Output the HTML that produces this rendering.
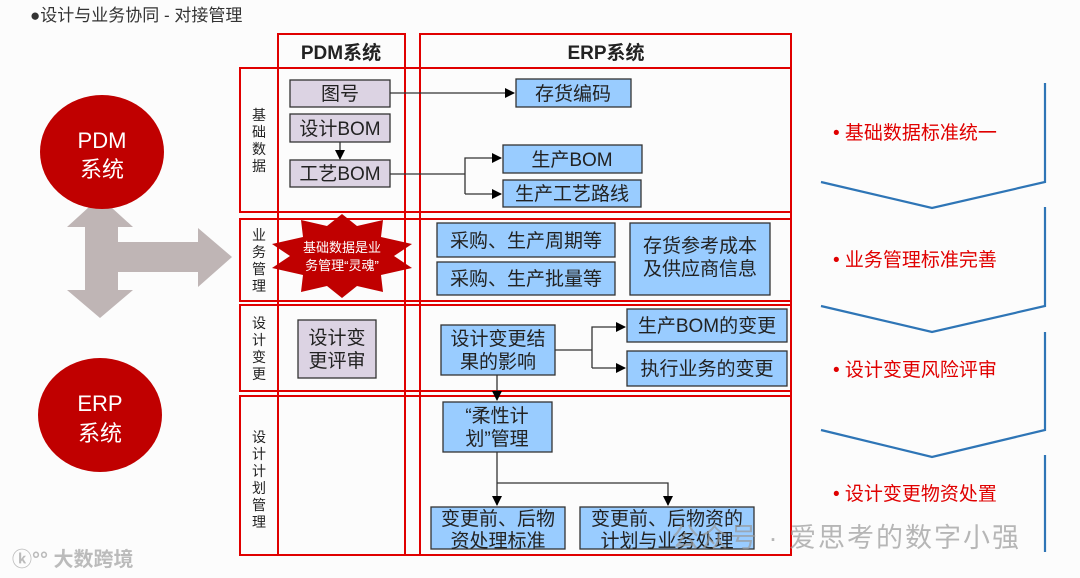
<!DOCTYPE html>
<html><head><meta charset="utf-8"><style>
html,body{margin:0;padding:0;background:#fcfcfc;}
svg{display:block;font-family:"Liberation Sans","Noto Sans CJK SC",sans-serif;}
</style></head><body>
<svg width="1080" height="578" viewBox="0 0 1080 578" xmlns="http://www.w3.org/2000/svg">
<defs>
<marker id="ar" markerWidth="10" markerHeight="10" refX="9" refY="5" orient="auto" markerUnits="userSpaceOnUse"><path d="M0,0 L10,5 L0,10 z" fill="#000"/></marker>
</defs>
<rect width="1080" height="578" fill="#fcfcfc"/>
<text x="30" y="21" font-size="17" fill="#333">●设计与业务协同 - 对接管理</text>

<path d="M100,197 L133,227 L118,227 L118,242 L198,242 L198,228 L232,257 L198,287 L198,272 L118,272 L118,290 L133,290 L100,318 L67,290 L85,290 L85,227 L67,227 Z" fill="#bfb5b5"/>
<ellipse cx="102" cy="152" rx="62" ry="57" fill="#c00000"/>
<text x="102" y="148" font-size="22" fill="#fff" text-anchor="middle">PDM</text>
<text x="102" y="177" font-size="22" fill="#fff" text-anchor="middle">系统</text>
<ellipse cx="100" cy="415" rx="62" ry="57" fill="#c00000"/>
<text x="100" y="411" font-size="22" fill="#fff" text-anchor="middle">ERP</text>
<text x="100" y="441" font-size="22" fill="#fff" text-anchor="middle">系统</text>

<g fill="none" stroke="#e00000" stroke-width="2">
<rect x="278" y="34" width="127" height="521"/>
<rect x="420" y="34" width="371" height="521"/>
<line x1="278" y1="68" x2="405" y2="68"/>
<rect x="240" y="68" width="551" height="144"/>
<rect x="240" y="219" width="551" height="82"/>
<rect x="240" y="305" width="551" height="86"/>
<rect x="240" y="396" width="551" height="159"/>
</g>
<text x="341" y="59" font-size="19" font-weight="bold" fill="#222" text-anchor="middle">PDM系统</text>
<text x="606" y="59" font-size="19" font-weight="bold" fill="#222" text-anchor="middle">ERP系统</text>

<g font-size="14" fill="#222" text-anchor="middle">
<text x="259" y="120">基</text><text x="259" y="137">础</text><text x="259" y="154">数</text><text x="259" y="171">据</text>
<text x="259" y="240">业</text><text x="259" y="257">务</text><text x="259" y="274">管</text><text x="259" y="291">理</text>
<text x="259" y="328">设</text><text x="259" y="345">计</text><text x="259" y="362">变</text><text x="259" y="379">更</text>
<text x="259" y="442">设</text><text x="259" y="459">计</text><text x="259" y="476">计</text><text x="259" y="493">划</text><text x="259" y="510">管</text><text x="259" y="527">理</text>
</g>

<g stroke="#333" stroke-width="1.3" fill="none">
<line x1="390" y1="93" x2="514" y2="93" marker-end="url(#ar)"/>
<line x1="340" y1="142" x2="340" y2="159" marker-end="url(#ar)"/>
<polyline points="390,174 465,174"/>
<polyline points="465,194 465,158 501,158" marker-end="url(#ar)"/>
<line x1="465" y1="194" x2="501" y2="194" marker-end="url(#ar)"/>
<line x1="555" y1="350" x2="592" y2="350"/>
<polyline points="592,368 592,327 625,327" marker-end="url(#ar)"/>
<line x1="592" y1="368" x2="625" y2="368" marker-end="url(#ar)"/>
<line x1="497" y1="375" x2="497" y2="400" marker-end="url(#ar)"/>
<line x1="497" y1="452" x2="497" y2="505" marker-end="url(#ar)"/>
<polyline points="497,483 668,483 668,505" marker-end="url(#ar)"/>
</g>

<g stroke="#333" stroke-width="1.3">
<rect x="290" y="80" width="100" height="27" fill="#dcd3e3"/>
<rect x="290" y="114" width="100" height="28" fill="#dcd3e3"/>
<rect x="290" y="160" width="100" height="27" fill="#dcd3e3"/>
<rect x="298" y="320" width="78" height="58" fill="#dcd3e3"/>
<g fill="#99ccff">
<rect x="516" y="79" width="115" height="28"/>
<rect x="503" y="145" width="139" height="28"/>
<rect x="503" y="180" width="138" height="27"/>
<rect x="437" y="223" width="178" height="34"/>
<rect x="437" y="262" width="178" height="33"/>
<rect x="630" y="223" width="140" height="72"/>
<rect x="441" y="325" width="114" height="50"/>
<rect x="627" y="309" width="160" height="33"/>
<rect x="627" y="351" width="160" height="35"/>
<rect x="443" y="402" width="109" height="50"/>
<rect x="431" y="507" width="134" height="42"/>
<rect x="580" y="507" width="174" height="42"/>
</g>
</g>
<g font-size="19" fill="#222" text-anchor="middle">
<text x="340" y="100">图号</text>
<text x="340" y="135">设计BOM</text>
<text x="340" y="180">工艺BOM</text>
<text x="337" y="344">设计变</text><text x="337" y="367">更评审</text>
<text x="573" y="100">存货编码</text>
<text x="572" y="166">生产BOM</text>
<text x="572" y="200">生产工艺路线</text>
<text x="526" y="247">采购、生产周期等</text>
<text x="526" y="285">采购、生产批量等</text>
<text x="700" y="252">存货参考成本</text><text x="700" y="275">及供应商信息</text>
<text x="498" y="345">设计变更结</text><text x="498" y="368">果的影响</text>
<text x="497" y="422">“柔性计</text><text x="497" y="445">划”管理</text>
<text x="707" y="332">生产BOM的变更</text>
<text x="707" y="375">执行业务的变更</text>
<text x="498" y="525">变更前、后物</text><text x="498" y="547">资处理标准</text>
<text x="667" y="525">变更前、后物资的</text><text x="667" y="547">计划与业务处理</text>
</g>

<polygon fill="#c00000" points="342,214 357,226 383,220 381,237 412,244 394,256 412,268 381,275 383,292 357,286 342,298 327,286 301,292 303,275 272,268 290,256 272,244 303,237 301,220 327,226"/>
<text x="342" y="252" font-size="13" fill="#fff" text-anchor="middle">基础数据是业</text>
<text x="342" y="270" font-size="13" fill="#fff" text-anchor="middle">务管理“灵魂”</text>

<g stroke="#2e75b6" stroke-width="2.2" fill="none">
<polyline points="1045,83 1045,182 932,208 821,182"/>
<polyline points="1045,207 1045,306 932,332 821,306"/>
<polyline points="1045,332 1045,430 932,457 821,430"/>
<line x1="1045" y1="455" x2="1045" y2="552"/>
</g>
<g font-size="19" fill="#e00000">
<text x="833" y="139">• 基础数据标准统一</text>
<text x="833" y="266">• 业务管理标准完善</text>
<text x="833" y="376">• 设计变更风险评审</text>
<text x="833" y="500">• 设计变更物资处置</text>
</g>

<text x="672" y="547" font-size="27" fill="#999" opacity="0.7" letter-spacing="2">公众号 · 爱思考的数字小强</text>
<text x="12" y="566" font-size="20" fill="#bbb" font-weight="bold">ⓚ°° 大数跨境</text>
</svg>
</body></html>
